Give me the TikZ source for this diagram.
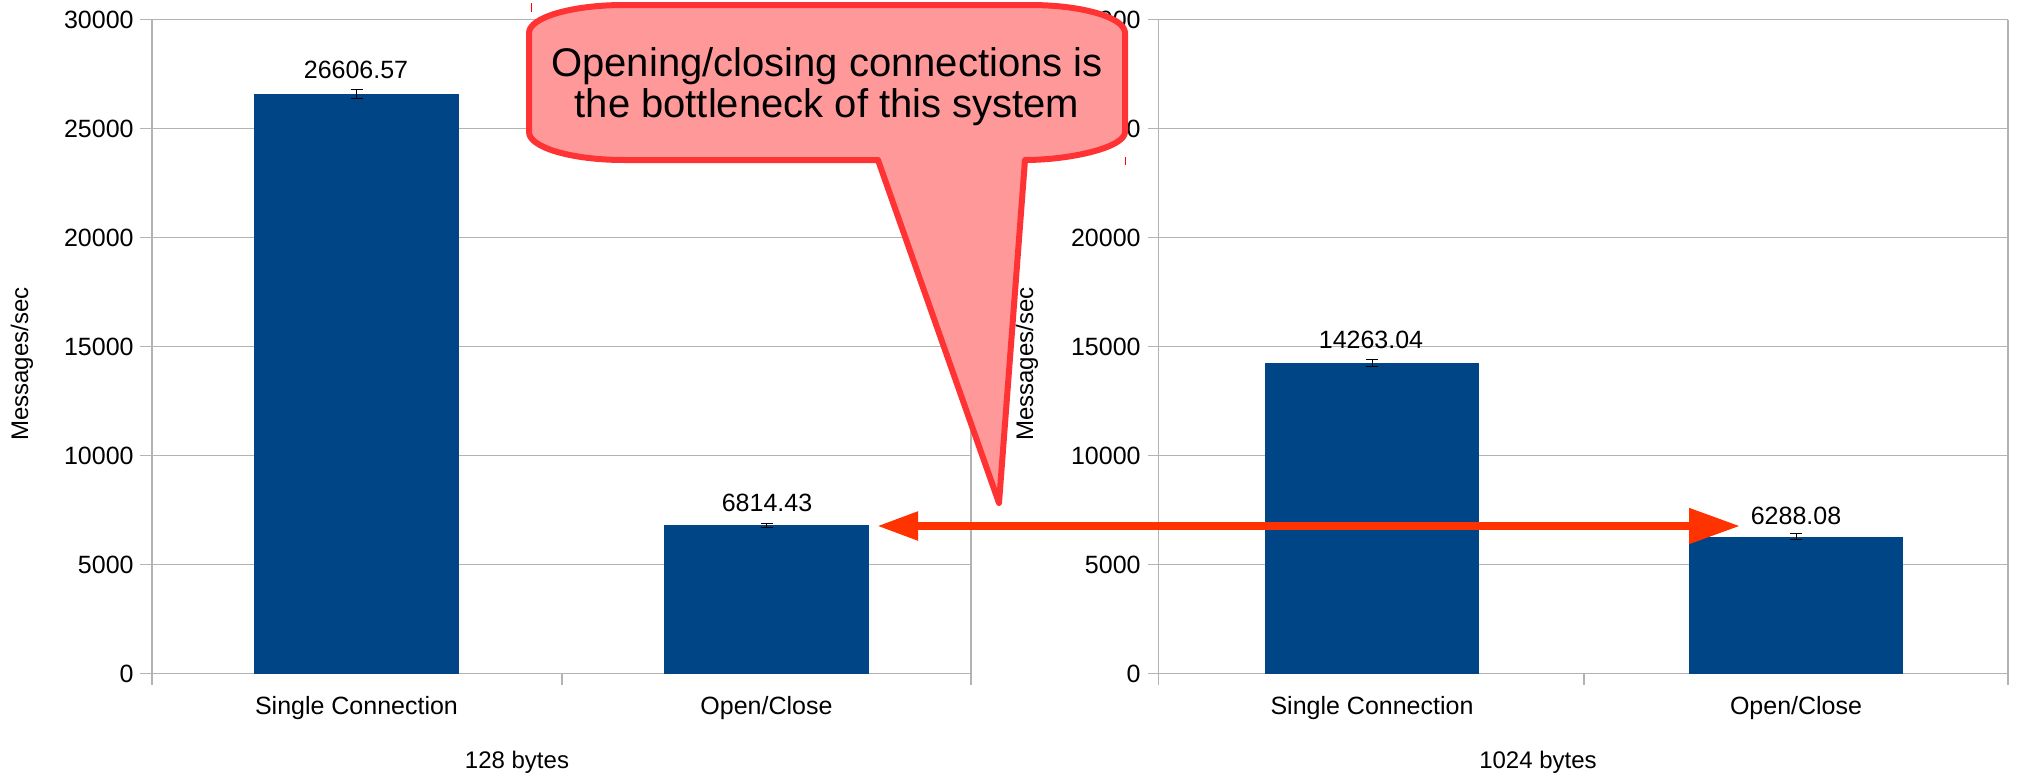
\documentclass[tikz,border=0pt]{standalone}
\usepackage{fontspec}
\setmainfont{Liberation Sans}
\usetikzlibrary{arrows.meta}
\definecolor{barblue}{HTML}{004586}
\definecolor{gridgray}{HTML}{B3B3B3}
\definecolor{calloutline}{HTML}{FF3333}
\definecolor{calloutfill}{HTML}{FF9999}
\definecolor{arrowred}{HTML}{FF3300}
\tikzset{
  gridline/.style={gridgray, line width=0.75pt},
  bar/.style={fill=barblue},
  errbar/.style={black, line width=0.5pt},
  ticklbl/.style={anchor=east, inner sep=0pt, font=\fontsize{12.5}{15}\selectfont},
  lbl/.style={inner sep=0pt, font=\fontsize{12.5}{15}\selectfont},
  axlbl/.style={inner sep=0pt, font=\fontsize{12}{14}\selectfont},
  callout/.style={draw=calloutline, fill=calloutfill, line width=3pt, line join=round},
}
\begin{document}
\begin{tikzpicture}[x=0.5pt, y=-0.5pt]
  \useasboundingbox (0,0) rectangle (2020,776);
  % grid and axes, 128 bytes
  \foreach \y/\t in {673.5/0, 564.5/5000, 455.6/10000, 346.6/15000, 237.6/20000, 128.7/25000, 19.7/30000} {
    \draw[gridline] (140,\y) -- (971,\y);
    \node[ticklbl] (l\t) at (134,\y) {\t};
  }
  \draw[gridline] (152,19.7) -- (152,685);
  \draw[gridline] (562,673.5) -- (562,685);
  \draw[gridline] (971,19.7) -- (971,685);
  % grid and axes, 1024 bytes
  \foreach \y/\t in {673.5/0, 564.5/5000, 455.6/10000, 346.6/15000, 237.6/20000, 128.7/25000, 19.7/30000} {
    \draw[gridline] (1148,\y) -- (2008,\y);
    \node[ticklbl] (r\t) at (1141,\y) {\t};
  }
  \draw[gridline] (1158.5,19.7) -- (1158.5,685);
  \draw[gridline] (1584,673.5) -- (1584,685);
  \draw[gridline] (2008,19.7) -- (2008,685);

  % bars
  \fill[bar] (254,673.5) rectangle (459,93.7);
  \fill[bar] (664,673.5) rectangle (869,525.0);
  \fill[bar] (1265,673.5) rectangle (1479,362.7);
  \fill[bar] (1689,673.5) rectangle (1903,536.5);
  \draw[errbar] (356.5,89.3) -- (356.5,98.3) (350.5,89.3) -- (362.5,89.3) (350.5,98.3) -- (362.5,98.3);
  \draw[errbar] (766.5,523) -- (766.5,527) (760.5,523) -- (772.5,523) (760.5,527) -- (772.5,527);
  \draw[errbar] (1372,359.5) -- (1372,366) (1366,359.5) -- (1378,359.5) (1366,366) -- (1378,366);
  \draw[errbar] (1796,533.5) -- (1796,539.5) (1790,533.5) -- (1802,533.5) (1790,539.5) -- (1802,539.5);

  % values
  \node[lbl] (v128sc) at (356,70) {26606.57};
  \node[lbl] (v128oc) at (767,503) {6814.43};
  \node[lbl] (v1024sc) at (1371,340) {14263.04};
  \node[lbl] (v1024oc) at (1796,516) {6288.08};

  % categories and titles
  \node[lbl] (c128sc) at (356.5,708) {Single Connection};
  \node[lbl] (c128oc) at (766.5,708) {Open/Close};
  \node[lbl] (c1024sc) at (1372,708) {Single Connection};
  \node[lbl] (c1024oc) at (1796,708) {Open/Close};
  \node[axlbl] (x128) at (517,762) {128 bytes};
  \node[axlbl] (x1024) at (1538,762) {1024 bytes};
  \node[axlbl, rotate=90] (y128) at (22,364) {Messages/sec};
  \node[axlbl, rotate=90] (y1024) at (1027,364) {Messages/sec};

  % callout
  \draw[callout] (529,33) .. controls (529,17.5) and (571.6,5) .. (624,5) -- (1030,5)
    .. controls (1082.4,5) and (1125,17.5) .. (1125,33) -- (1125,132)
    .. controls (1125,147.5) and (1070,160) .. (1025,160) -- (999,503) -- (878,160)
    -- (624,160) .. controls (571.6,160) and (529,147.5) .. (529,132) -- cycle;
  \node[align=center, inner sep=0pt, font=\fontsize{20}{20.5}\selectfont] (msg) at (827,87)
    {Opening/closing connections is\\the bottleneck of this system};
  \draw[red, line width=0.5pt] (531,3) -- (531,12);
  \draw[red, line width=0.5pt] (1125,157) -- (1125,165);

  % double arrow
  \coordinate (oc128) at (877,526);
  \coordinate (oc1024) at (1740,526);
  \draw[arrowred, line width=4pt, {Triangle[length=20.5pt,width=13.5pt]}-{Triangle[length=25.5pt,width=17pt]}] (oc128) -- (oc1024);
\end{tikzpicture}
\end{document}
